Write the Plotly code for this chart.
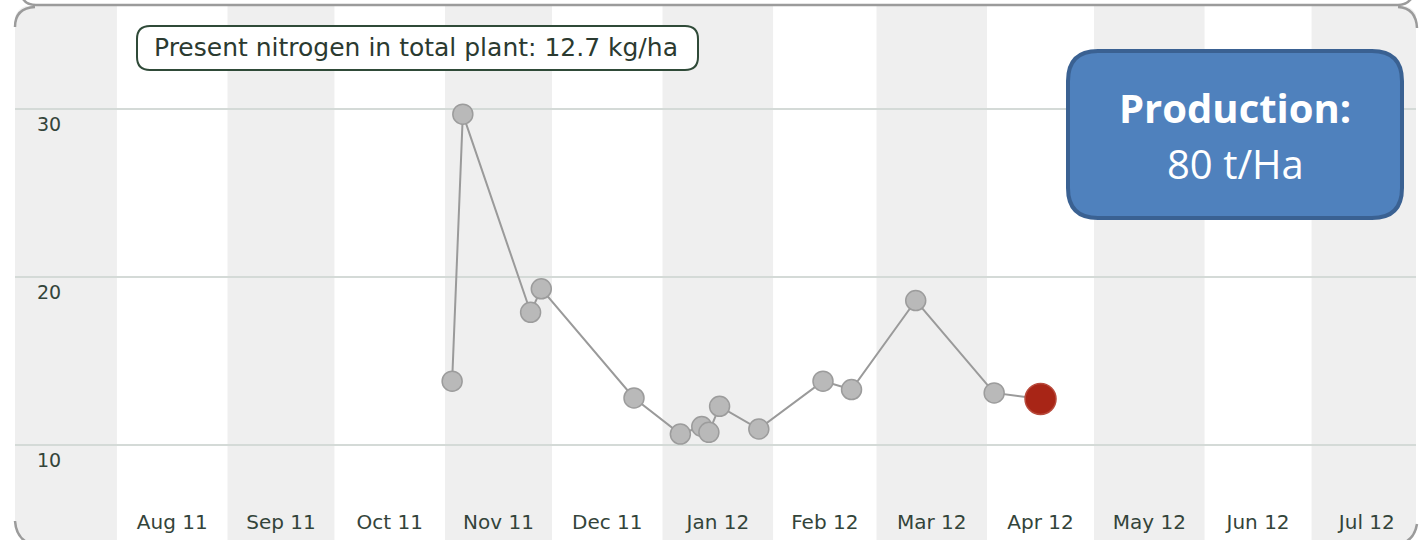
import plotly.graph_objects as go
import pandas as pd

# ---------------- data ----------------
dates = ["2011-11-03", "2011-11-06", "2011-11-25", "2011-11-28", "2011-12-24",
         "2012-01-06", "2012-01-12", "2012-01-14", "2012-01-17", "2012-01-28",
         "2012-02-15", "2012-02-23", "2012-03-12", "2012-04-03", "2012-04-16"]
nitrogen = [13.8, 29.7, 17.9, 19.3, 12.8,
            10.65, 11.1, 10.75, 12.3, 10.95,
            13.8, 13.3, 18.6, 13.1, 12.74]

# month boundaries (stripes) and month tick labels
month_starts = ["2011-07-01", "2011-08-01", "2011-09-01", "2011-10-01", "2011-11-01",
                "2011-12-01", "2012-01-01", "2012-02-01", "2012-03-01", "2012-04-01",
                "2012-05-01", "2012-06-01", "2012-07-01", "2012-08-01"]
month_labels = ["Aug 11", "Sep 11", "Oct 11", "Nov 11", "Dec 11", "Jan 12",
                "Feb 12", "Mar 12", "Apr 12", "May 12", "Jun 12", "Jul 12"]
labelled_months = month_starts[1:]  # Aug 11 .. Aug 12 boundaries
y_ticks = [10, 20, 30]
production_value = "80 t/Ha"

# ---------------- geometry helpers ----------------
W, H = 1422, 540
L, R, T, B = 15, 1416, 6, 540


def px(X):
    return (X - L) / (R - L)


def py(Y):
    return (B - Y) / (B - T)


def P(X, Y):
    return f"{px(X):.6f},{py(Y):.6f}"


def rrect(x0, y0, x1, y1, r):
    return (f"M {P(x0 + r, y0)} L {P(x1 - r, y0)} Q {P(x1, y0)} {P(x1, y0 + r)} "
            f"L {P(x1, y1 - r)} Q {P(x1, y1)} {P(x1 - r, y1)} "
            f"L {P(x0 + r, y1)} Q {P(x0, y1)} {P(x0, y1 - r)} "
            f"L {P(x0, y0 + r)} Q {P(x0, y0)} {P(x0 + r, y0)} Z")


fig = go.Figure()

ms = pd.to_datetime(month_starts)
shapes = []
# alternating month stripes (Jul 11 shaded, then every other month)
for i in range(0, len(ms) - 1, 2):
    shapes.append(dict(type="rect", xref="x", yref="paper",
                       x0=ms[i], x1=ms[i + 1], y0=0, y1=1,
                       fillcolor="#efefef", line=dict(width=0), layer="below"))

# line + points
fig.add_trace(go.Scatter(
    x=dates, y=nitrogen, mode="lines+markers",
    line=dict(color="#9a9a9a", width=2),
    marker=dict(size=20, color="#b9b9b9", line=dict(color="#9c9c9c", width=1.5)),
    hoverinfo="x+y", showlegend=False))
# current point
fig.add_trace(go.Scatter(
    x=[dates[-1]], y=[nitrogen[-1]], mode="markers",
    marker=dict(size=31, color="#a82516", line=dict(color="#b84a3c", width=1.5)),
    hoverinfo="x+y", showlegend=False))

# mid-month tick positions for labels
lm = pd.to_datetime(labelled_months)
mids = [lm[i] + (lm[i + 1] - lm[i]) / 2 for i in range(len(lm) - 1)]

# corner masks (white outside rounded frame)
rr = 19
for (cx, cy, ax, ay, bx, by) in [
    (L - 1, T - 1, L + rr, T - 1, L - 1, T + rr),
    (R + 2, T - 1, R - rr, T - 1, R + 2, T + rr),
]:
    shapes.append(dict(type="path", xref="paper", yref="paper",
                       path=f"M {P(cx, cy)} L {P(ax, ay)} Q {P(cx, cy)} {P(bx, by)} Z",
                       fillcolor="white", line=dict(width=0), layer="above"))
shapes.append(dict(type="path", xref="paper", yref="paper",
                   path=f"M {P(L-1, 520)} Q {P(L, 536)} {P(L+12, 542)} L {P(L-1, 542)} Z",
                   fillcolor="white", line=dict(width=0), layer="above"))
shapes.append(dict(type="path", xref="paper", yref="paper",
                   path=f"M {P(R+2, 522)} Q {P(R-1, 536)} {P(R-10, 542)} L {P(R+2, 542)} Z",
                   fillcolor="white", line=dict(width=0), layer="above"))

frame_col = "#9b9b9b"
# outer container bottom line with its corners
shapes.append(dict(type="path", xref="paper", yref="paper",
                   path=f"M {P(23, -1)} Q {P(27, 5)} {P(36, 5)} L {P(1398, 5)} Q {P(1406, 5)} {P(1411, -1)}",
                   line=dict(color=frame_col, width=2.5), layer="above"))
# chart box corners
shapes.append(dict(type="path", xref="paper", yref="paper",
                   path=f"M {P(L, 27)} Q {P(L, 8)} {P(35, 7)}",
                   line=dict(color=frame_col, width=2.5), layer="above"))
shapes.append(dict(type="path", xref="paper", yref="paper",
                   path=f"M {P(1398, 7)} Q {P(R, 8)} {P(R+1, 28)}",
                   line=dict(color=frame_col, width=2.5), layer="above"))
shapes.append(dict(type="path", xref="paper", yref="paper",
                   path=f"M {P(L, 521)} Q {P(L+1, 535)} {P(L+10, 541)}",
                   line=dict(color=frame_col, width=2.5), layer="above"))
shapes.append(dict(type="path", xref="paper", yref="paper",
                   path=f"M {P(R+1, 524)} Q {P(R-1, 536)} {P(R-9, 541)}",
                   line=dict(color=frame_col, width=2.5), layer="above"))

# label box
shapes.append(dict(type="path", xref="paper", yref="paper",
                   path=rrect(137, 26, 698, 70, 13),
                   fillcolor="white", line=dict(color="#2f4a38", width=2), layer="above"))
# production box
shapes.append(dict(type="path", xref="paper", yref="paper",
                   path=rrect(1068, 51, 1402, 218, 30),
                   fillcolor="#4f81bd", line=dict(color="#3a6192", width=4), layer="above"))

annotations = [
    dict(xref="paper", yref="paper", x=px(416), y=py(48), showarrow=False,
         text=f"Present nitrogen in total plant: {nitrogen[-1]:.1f} kg/ha",
         font=dict(family="DejaVu Sans", size=25, color="#2b3a30"),
         xanchor="center", yanchor="middle"),
    dict(xref="paper", yref="paper", x=px(1235), y=py(107), showarrow=False,
         text="<b>Production:</b>",
         font=dict(family="Open Sans", size=40, color="white"),
         xanchor="center", yanchor="middle"),
    dict(xref="paper", yref="paper", x=px(1235), y=py(164), showarrow=False,
         text=production_value,
         font=dict(family="Open Sans", size=40, color="white"),
         xanchor="center", yanchor="middle"),
]

fig.update_layout(
    width=W, height=H,
    margin=dict(l=L, r=W - R, t=T, b=H - B, pad=0),
    paper_bgcolor="white", plot_bgcolor="white",
    font=dict(family="DejaVu Sans", color="#33443a"),
    shapes=shapes, annotations=annotations, showlegend=False,
    xaxis=dict(type="date", range=["2011-07-03 10:00", "2012-07-30 07:00"],
               tickmode="array", tickvals=mids, ticktext=month_labels,
               ticklabelposition="inside", ticks="", showgrid=False,
               ticklabelstandoff=4,
               zeroline=False, showline=False,
               tickfont=dict(size=20, color="#33443a")),
    yaxis=dict(range=[4.34, 36.14], tickmode="array", tickvals=y_ticks,
               ticktext=[str(v) for v in y_ticks],
               ticklabelposition="inside", ticks="", ticklabelshift=15,
               ticklabelstandoff=19,
               showgrid=True, gridcolor="#d4dad7", gridwidth=2,
               zeroline=False, showline=False,
               tickfont=dict(size=19, color="#33443a")),
)

fig.write_html("out.html", config={"displayModeBar": False},
               post_script="document.body.style.margin='0px';")
